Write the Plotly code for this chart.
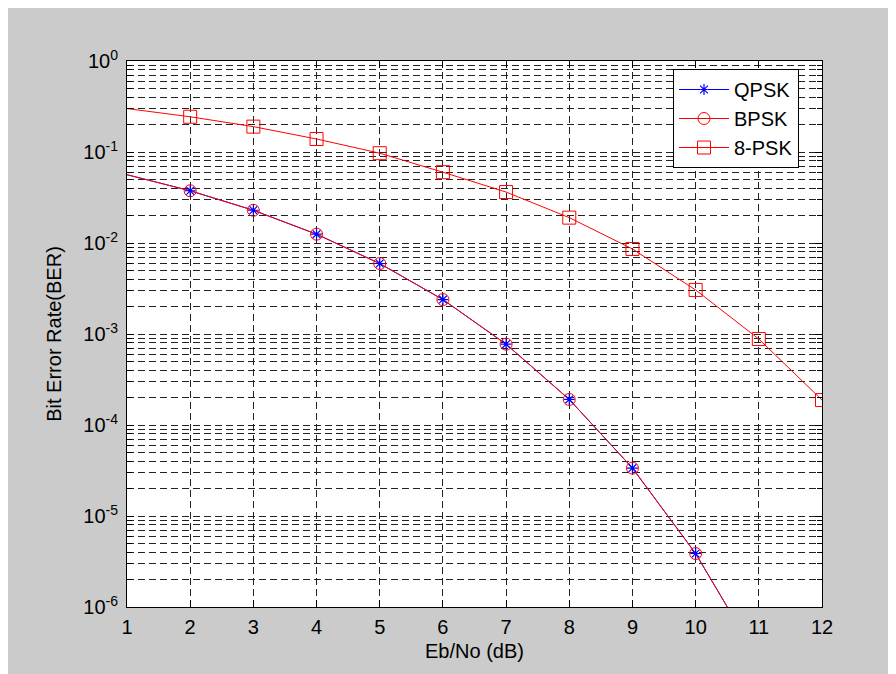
import plotly.graph_objects as go

# ---- data ----
ebno_db = [1, 2, 3, 4, 5, 6, 7, 8, 9, 10, 11, 12]
ber_qpsk = [0.0563, 0.0375, 0.0229, 0.0125, 0.00595, 0.00239, 7.73e-4, 1.91e-4,
            3.36e-5, 3.87e-6, 2.61e-7, 9.0e-9]
ber_bpsk = [0.0563, 0.0375, 0.0229, 0.0125, 0.00595, 0.00239, 7.73e-4, 1.91e-4,
            3.36e-5, 3.87e-6, 2.61e-7, 9.0e-9]
ber_8psk = [0.300, 0.244, 0.190, 0.139, 0.097, 0.060, 0.0363, 0.0190, 0.0086,
            0.00305, 0.00088, 0.000188]

y_tick_vals = [1e-6, 1e-5, 1e-4, 1e-3, 1e-2, 1e-1, 1]
y_tick_text = ['10<sup>-6</sup>', '10<sup>-5</sup>', '10<sup>-4</sup>', '10<sup>-3</sup>',
               '10<sup>-2</sup>', '10<sup>-1</sup>', '10<sup>0</sup>']
x_tick_vals = list(range(1, 13))

names = ['QPSK', 'BPSK', '8-PSK']

# ---- styling ----
FONT = 'Liberation Sans, Arial, sans-serif'
BLUE = '#0000ff'
RED = '#ff0000'
GRID = '#222222'
DASH = '7px,4px'

minor_y = [m * 10 ** e for e in range(-6, 0) for m in range(2, 10)]

ast_marker = dict(symbol='asterisk-open', size=9, color=BLUE, line=dict(color=BLUE, width=1.2))
circ_marker = dict(symbol='circle-open', size=12, color=RED, line=dict(color=RED, width=1))
sq_marker = dict(symbol='square-open', size=13, color=RED, line=dict(color=RED, width=1))

fig = go.Figure()

# lines (blue QPSK underneath red BPSK)
fig.add_trace(go.Scatter(x=ebno_db, y=ber_qpsk, mode='lines',
                         line=dict(color=BLUE, width=1), showlegend=False))
fig.add_trace(go.Scatter(x=ebno_db, y=ber_bpsk, mode='lines',
                         line=dict(color=RED, width=1), showlegend=False))
fig.add_trace(go.Scatter(x=ebno_db, y=ber_8psk, mode='lines',
                         line=dict(color=RED, width=1), showlegend=False))

# markers (from 2 dB on)
fig.add_trace(go.Scatter(x=ebno_db[1:], y=ber_bpsk[1:], mode='markers',
                         marker=circ_marker, showlegend=False))
fig.add_trace(go.Scatter(x=ebno_db[1:], y=ber_qpsk[1:], mode='markers',
                         marker=ast_marker, showlegend=False))
fig.add_trace(go.Scatter(x=ebno_db[1:], y=ber_8psk[1:], mode='markers',
                         marker=sq_marker, showlegend=False))

# legend entries
fig.add_trace(go.Scatter(x=[None], y=[None], mode='lines+markers', name=names[0],
                         line=dict(color=BLUE, width=1), marker=ast_marker))
fig.add_trace(go.Scatter(x=[None], y=[None], mode='lines+markers', name=names[1],
                         line=dict(color=RED, width=1), marker=circ_marker))
fig.add_trace(go.Scatter(x=[None], y=[None], mode='lines+markers', name=names[2],
                         line=dict(color=RED, width=1), marker=sq_marker))

# page has an 8px body margin, so the figure starts at (8, 8)
W, H = 896, 674
ML, MR, MT, MB = 119, 82, 53, 75
PW, PH = W - ML - MR, H - MT - MB

fig.update_layout(
    width=W, height=H,
    margin=dict(l=ML, r=MR, t=MT, b=MB, pad=0),
    paper_bgcolor='#cbcbcb',
    plot_bgcolor='white',
    font=dict(family=FONT, size=20, color='black'),
    showlegend=True,
    legend=dict(x=(665 - ML) / PW, y=1 - (61 - MT) / PH, xanchor='left', yanchor='top',
                bgcolor='white', bordercolor='black', borderwidth=1,
                font=dict(family=FONT, size=20, color='black'),
                tracegroupgap=0, itemwidth=50),
    xaxis=dict(
        range=[1, 12], tickvals=x_tick_vals, ticktext=[str(v) for v in x_tick_vals],
        showgrid=True, gridcolor=GRID, griddash=DASH, gridwidth=1,
        ticks='inside', ticklen=7, tickcolor='black', tickwidth=1,
        showline=True, linecolor='black', linewidth=1, mirror='ticks',
        zeroline=False,
        title=dict(text='Eb/No (dB)', font=dict(family=FONT, size=20), standoff=6),
        ticklabelstandoff=2,
    ),
    yaxis=dict(
        type='log', range=[-6, 0],
        tickvals=y_tick_vals, ticktext=y_tick_text,
        showgrid=True, gridcolor=GRID, griddash=DASH, gridwidth=1,
        ticks='inside', ticklen=7, tickcolor='black', tickwidth=1,
        showline=True, linecolor='black', linewidth=1, mirror='ticks',
        zeroline=False,
        minor=dict(tickvals=minor_y, ticks='inside', ticklen=5, tickcolor='black',
                   showgrid=True, gridcolor=GRID, griddash=DASH, gridwidth=1),
        title=dict(text='Bit Error Rate(BER)', font=dict(family=FONT, size=20), standoff=16),
        ticklabelstandoff=4,
    ),
)

fig.write_html('out.html')
